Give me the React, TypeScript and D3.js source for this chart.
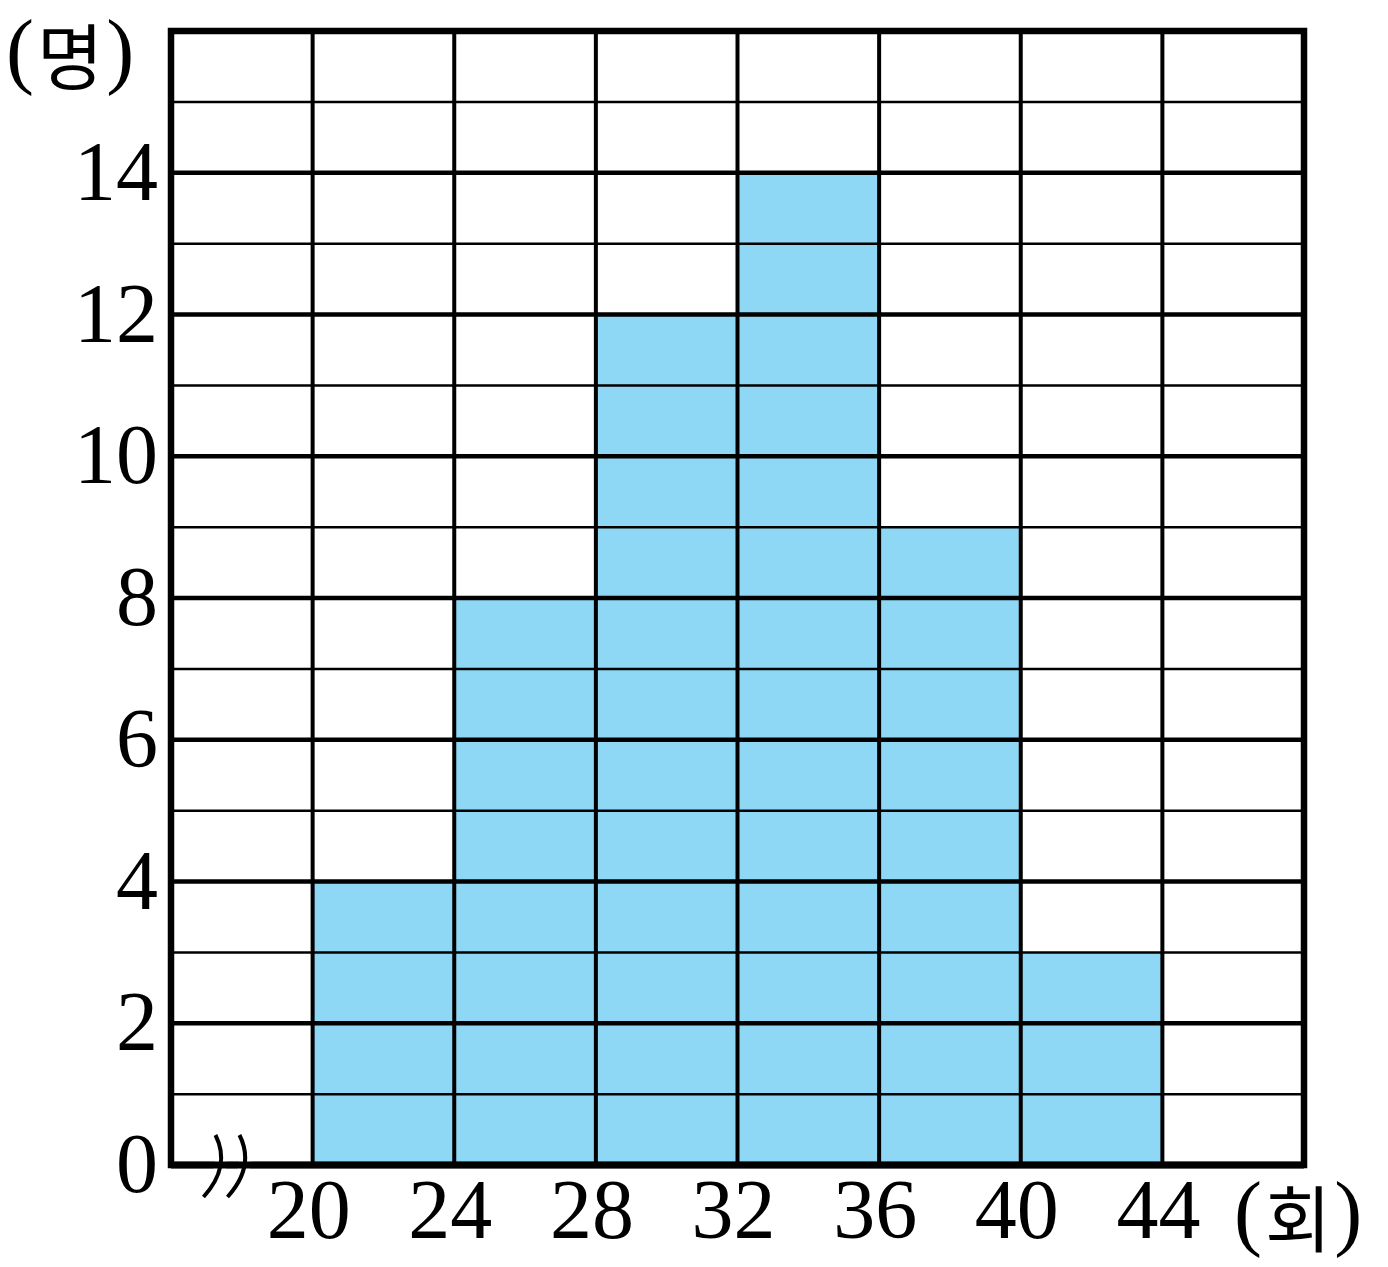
import React from "react";
import * as d3 from "d3";

const binStarts = [20, 24, 28, 32, 36, 40];
const binWidth = 4;
const counts = [4, 8, 12, 14, 9, 3];
const xTicks = [20, 24, 28, 32, 36, 40, 44];
const yTicks = [0, 2, 4, 6, 8, 10, 12, 14];
const yUnit = "명";
const xUnit = "회";

const W = 1388;
const H = 1267;

export default function App() {
  const x = d3.scaleLinear().domain([16, 48]).range([171, 1304]);
  const y = d3.scaleLinear().domain([0, 16]).range([1165, 31]);
  const gridX = d3.range(16, 49, 4);
  const gridY = d3.range(0, 17, 1);
  const font = "'Liberation Serif', 'DejaVu Serif', serif";
  const kfont = "'Noto Sans CJK KR', 'Liberation Serif', serif";

  const bx = x(16) + 0.3 * (x(20) - x(16));
  const breakPath = (x0: number) => {
    const p = d3.path();
    p.moveTo(x0 + 2, y(0) - 30);
    p.bezierCurveTo(x0 + 12, y(0) - 10, x0 + 10, y(0) + 10, x0 - 10, y(0) + 32);
    return p.toString();
  };

  const unitLabel = (lx: number, ly: number, ch: string) => (
    <text x={lx} y={ly} fontFamily={font} fontSize={84}>
      <tspan>(</tspan>
      <tspan fontFamily={kfont} fontSize={72} dx={3} dy={6}>
        {ch}
      </tspan>
      <tspan dx={3} dy={-6}>)</tspan>
    </text>
  );

  return (
    <svg
      width={W}
      height={H}
      style={{ position: "absolute", left: 0, top: 0, background: "#fff" }}
    >
      {binStarts.map((s, i) => (
        <rect
          key={s}
          x={x(s)}
          y={y(counts[i])}
          width={x(s + binWidth) - x(s)}
          height={y(0) - y(counts[i])}
          fill="#8ed8f6"
        />
      ))}
      {gridY.map((v) => (
        <line
          key={"h" + v}
          x1={x(16)}
          x2={x(48)}
          y1={y(v)}
          y2={y(v)}
          stroke="#000"
          strokeWidth={v % 2 === 0 ? 4.5 : 2.5}
        />
      ))}
      {gridX.map((v) => (
        <line
          key={"v" + v}
          x1={x(v)}
          x2={x(v)}
          y1={y(0)}
          y2={y(16)}
          stroke="#000"
          strokeWidth={4}
        />
      ))}
      <rect
        x={x(16)}
        y={y(16)}
        width={x(48) - x(16)}
        height={y(0) - y(16)}
        fill="none"
        stroke="#000"
        strokeWidth={6.5}
      />
      <path d={breakPath(bx)} fill="none" stroke="#fff" strokeWidth={12} />
      <path d={breakPath(bx + 24)} fill="none" stroke="#fff" strokeWidth={12} />
      <line x1={x(16)} x2={x(48)} y1={y(0)} y2={y(0)} stroke="#000" strokeWidth={7} />
      <path d={breakPath(bx)} fill="none" stroke="#000" strokeWidth={4} />
      <path d={breakPath(bx + 24)} fill="none" stroke="#000" strokeWidth={4} />
      {yTicks.map((v) => (
        <text
          key={"yt" + v}
          x={158}
          y={y(v) + 27}
          textAnchor="end"
          fontFamily={font}
          fontSize={84}
        >
          {v}
        </text>
      ))}
      {xTicks.map((v) => (
        <text
          key={"xt" + v}
          x={x(v) - 4}
          y={1238}
          textAnchor="middle"
          fontFamily={font}
          fontSize={84}
        >
          {v}
        </text>
      ))}
      {unitLabel(6, 78, yUnit)}
      {unitLabel(1234, 1240, xUnit)}
    </svg>
  );
}
